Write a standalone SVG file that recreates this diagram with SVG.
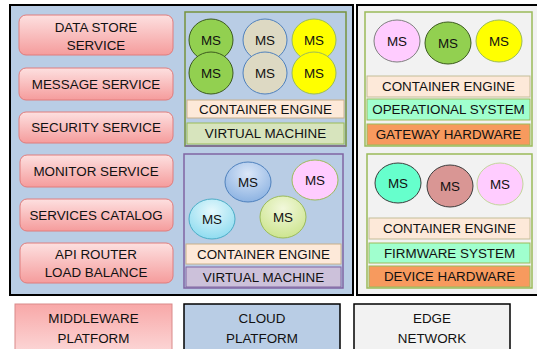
<svg xmlns="http://www.w3.org/2000/svg" width="537" height="349" viewBox="0 0 537 349">
<defs>
<linearGradient id="gSvc" x1="0" y1="0" x2="0" y2="1"><stop offset="0" stop-color="#fde0e0"/><stop offset="1" stop-color="#f59c9c"/></linearGradient>
<linearGradient id="gMid" x1="0" y1="0" x2="0" y2="1"><stop offset="0" stop-color="#f8a8a8"/><stop offset="1" stop-color="#fcd8d8"/></linearGradient>
<radialGradient id="gBlue" cx="0.5" cy="0.3" r="0.7"><stop offset="0" stop-color="#dbe7f8"/><stop offset="1" stop-color="#8db3e2"/></radialGradient>
<radialGradient id="gCyan" cx="0.5" cy="0.3" r="0.7"><stop offset="0" stop-color="#e6f8fc"/><stop offset="1" stop-color="#8fdcf0"/></radialGradient>
<radialGradient id="gLime" cx="0.5" cy="0.3" r="0.7"><stop offset="0" stop-color="#f2f8dc"/><stop offset="1" stop-color="#cde58f"/></radialGradient>
<style>
text{font-family:"Liberation Sans",Arial,sans-serif;font-size:13.4px;fill:#111;text-anchor:middle}
.svc{fill:url(#gSvc);stroke:#e07c7c;stroke-width:1}
.ce{fill:#fde9d9;stroke:#c9b08a;stroke-width:1}
.ms{stroke-width:1}
</style>
</defs>
<g id="cloud-area">
<rect x="10" y="5" width="343" height="290" fill="#b9cde5" stroke="#000" stroke-width="2"/>
</g>
<g id="edge-area">
<rect x="357" y="5" width="182" height="290" fill="#f2f2f2" stroke="#000" stroke-width="2"/>
</g>
<g id="services">
<g id="data-store"><rect class="svc" x="19" y="15" width="154" height="40" rx="7"/><text x="96" y="31.5">DATA STORE</text><text x="96" y="49.5">SERVICE</text></g>
<g id="message"><rect class="svc" x="19" y="68" width="154" height="32" rx="7"/><text x="96" y="88.5">MESSAGE SERVICE</text></g>
<g id="security"><rect class="svc" x="19" y="112" width="154" height="31" rx="7"/><text x="96" y="132">SECURITY SERVICE</text></g>
<g id="monitor"><rect class="svc" x="20" y="155" width="153" height="32" rx="7"/><text x="96" y="175.5">MONITOR SERVICE</text></g>
<g id="catalog"><rect class="svc" x="20" y="199" width="153" height="32" rx="7"/><text x="96" y="219.5">SERVICES CATALOG</text></g>
<g id="api-router"><rect class="svc" x="20" y="243" width="153" height="40" rx="7"/><text x="96" y="258.5">API ROUTER</text><text x="96" y="277">LOAD BALANCE</text></g>
</g>
<g id="vm1">
<rect x="185" y="12" width="161" height="134" fill="#b9cde5" stroke="#77933c" stroke-width="1.5"/>
<ellipse class="ms" cx="211" cy="40" rx="22" ry="21" fill="#92d050" stroke="#3c5a1e"/>
<ellipse class="ms" cx="265" cy="40" rx="22" ry="21" fill="#ddd9c3" stroke="#4f81bd"/>
<ellipse class="ms" cx="314" cy="40" rx="22" ry="21" fill="#ffff00" stroke="#9bbb59"/>
<ellipse class="ms" cx="211" cy="73" rx="22" ry="21" fill="#92d050" stroke="#3c5a1e"/>
<ellipse class="ms" cx="265" cy="73" rx="22" ry="21" fill="#ddd9c3" stroke="#4f81bd"/>
<ellipse class="ms" cx="314" cy="73" rx="22" ry="21" fill="#ffff00" stroke="#9bbb59"/>
<text x="211" y="44.5">MS</text><text x="265" y="44.5">MS</text><text x="314" y="44.5">MS</text>
<text x="211" y="77.5">MS</text><text x="265" y="77.5">MS</text><text x="314" y="77.5">MS</text>
<rect class="ce" x="187" y="100" width="157" height="18"/>
<text x="265.5" y="113.5">CONTAINER ENGINE</text>
<rect x="187" y="123" width="157" height="21" fill="#d7e4bd" stroke="#9bbb59"/>
<line x1="185" y1="146" x2="346" y2="146" stroke="#8064a2" stroke-width="1.5"/>
<text x="265.5" y="138">VIRTUAL MACHINE</text>
</g>
<g id="vm2">
<rect x="184" y="154" width="159" height="134" fill="#b9cde5" stroke="#8064a2" stroke-width="1.5"/>
<ellipse class="ms" cx="248" cy="182" rx="23" ry="20" fill="url(#gBlue)" stroke="#4f81bd"/>
<ellipse class="ms" cx="315" cy="180" rx="23" ry="20" fill="#ffccff" stroke="#9bbb59"/>
<ellipse class="ms" cx="212" cy="219" rx="23" ry="20" fill="url(#gCyan)" stroke="#4bacc6"/>
<ellipse class="ms" cx="283" cy="217" rx="23" ry="21" fill="url(#gLime)" stroke="#9bbb59"/>
<text x="248" y="186.5">MS</text><text x="315" y="184.5">MS</text><text x="212" y="223.5">MS</text><text x="283" y="221.5">MS</text>
<rect class="ce" x="186" y="244" width="155" height="20"/>
<text x="263.5" y="258.5">CONTAINER ENGINE</text>
<rect x="186" y="267" width="155" height="20" fill="#ccc1da" stroke="#8064a2"/>
<text x="263.5" y="281.5">VIRTUAL MACHINE</text>
</g>
<g id="gateway">
<rect x="365" y="12" width="167" height="134" fill="#f2f2f2" stroke="#9bbb59" stroke-width="1.5"/>
<ellipse class="ms" cx="397" cy="41" rx="23" ry="21" fill="#ffccff" stroke="#7f7f7f"/>
<ellipse class="ms" cx="448" cy="43" rx="23" ry="21" fill="#92d050" stroke="#3c5a1e"/>
<ellipse class="ms" cx="499" cy="41" rx="23" ry="21" fill="#ffff00" stroke="#9bbb59"/>
<text x="397" y="45.5">MS</text><text x="448" y="47.5">MS</text><text x="499" y="45.5">MS</text>
<rect x="367" y="76" width="163" height="21" fill="#fde9d9" stroke="#c4bd97"/>
<text x="448.5" y="91">CONTAINER ENGINE</text>
<rect x="367" y="99" width="163" height="21" fill="#a0ffce" stroke="#9bbb59"/>
<text x="448.5" y="114">OPERATIONAL SYSTEM</text>
<rect x="367" y="124" width="163" height="21" fill="#f79a5e" stroke="#9bbb59"/>
<text x="448.5" y="139">GATEWAY HARDWARE</text>
</g>
<g id="device">
<rect x="367" y="154" width="165" height="134" fill="#f2f2f2" stroke="#9bbb59" stroke-width="1.5"/>
<ellipse class="ms" cx="398" cy="183" rx="23" ry="20" fill="#66ffcc" stroke="#3c3c3c"/>
<ellipse class="ms" cx="450" cy="186" rx="23" ry="21" fill="#d99694" stroke="#3c3c3c"/>
<ellipse class="ms" cx="500" cy="184" rx="23" ry="21" fill="#ffccff" stroke="#c3d69b"/>
<text x="398" y="187.5">MS</text><text x="450" y="190.5">MS</text><text x="500" y="188.5">MS</text>
<rect x="369" y="218" width="161" height="21" fill="#fde9d9" stroke="#c4bd97"/>
<text x="449.5" y="233">CONTAINER ENGINE</text>
<rect x="369" y="243" width="161" height="20" fill="#a0ffce" stroke="#9bbb59"/>
<text x="449.5" y="257.5">FIRMWARE SYSTEM</text>
<rect x="369" y="266" width="161" height="21" fill="#f79a5e" stroke="#9bbb59"/>
<text x="449.5" y="281">DEVICE HARDWARE</text>
</g>
<g id="connectors"></g>
<g id="legend">
<g id="legend-middleware"><rect x="15" y="304" width="157" height="50" fill="url(#gMid)" stroke="#d98a8a"/><text x="93.5" y="322.5">MIDDLEWARE</text><text x="93.5" y="342.5">PLATFORM</text></g>
<g id="legend-cloud"><rect x="184" y="304" width="156" height="50" fill="#b9cde5" stroke="#000" stroke-width="1.5"/><text x="262" y="322.5">CLOUD</text><text x="262" y="342.5">PLATFORM</text></g>
<g id="legend-edge"><rect x="354" y="304" width="156" height="50" fill="#f2f2f2" stroke="#000" stroke-width="1.5"/><text x="432" y="322.5">EDGE</text><text x="432" y="342.5">NETWORK</text></g>
</g>
</svg>
